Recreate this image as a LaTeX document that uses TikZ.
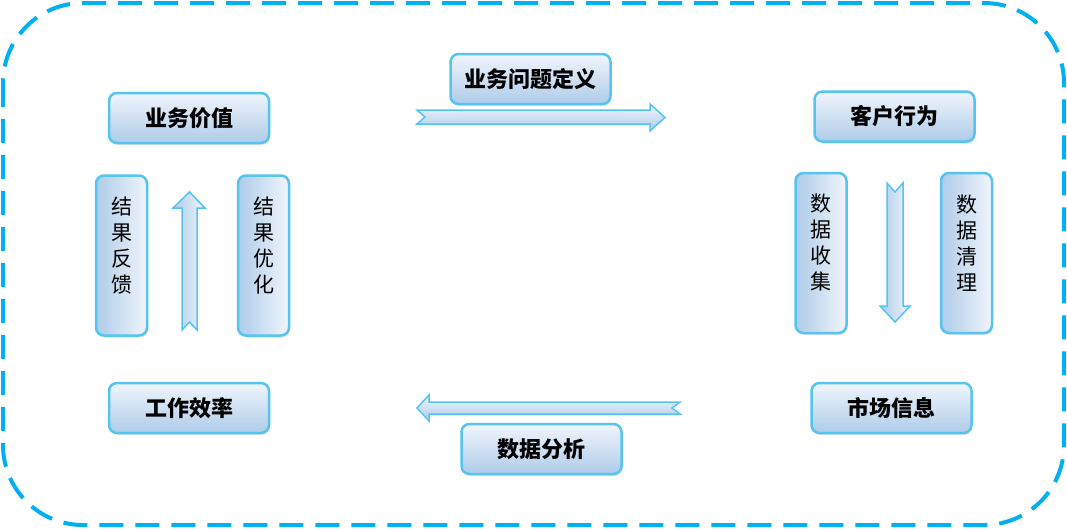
\documentclass[tikz,border=0pt]{standalone}
\usepackage{fontspec}
\usepackage{tikz}
\usetikzlibrary{shadows}
\newfontfamily\cjk{Noto Sans CJK SC}
\definecolor{marco}{RGB}{0,176,240}
\definecolor{borde}{RGB}{86,196,240}
\definecolor{claro}{RGB}{240,245,252}
\definecolor{oscuro}{RGB}{174,204,233}
\def\anchoH{160}
\def\altoH{50}
\def\anchoV{51}
\def\altoV{160}

\begin{document}
\begin{tikzpicture}[x=1pt, y=-1pt,
    caja/.style={draw=borde, line width=2.5pt, rounded corners=8pt, inner sep=0pt,
      drop shadow={opacity=0.18, shadow xshift=1pt, shadow yshift=-2pt}},
    hcaja/.style={caja, top color=claro, bottom color=oscuro,
      minimum width=\anchoH pt, minimum height=\altoH pt,
      font=\cjk\bfseries\fontsize{22}{26}\selectfont},
    vcaja/.style={caja, left color=oscuro, right color=claro,
      minimum width=\anchoV pt, minimum height=\altoV pt},
    vtexto/.style={inner sep=0pt, align=center, font=\cjk\fontsize{21}{26}\selectfont},
    flecha/.style={draw=borde, line width=1.5pt, line join=miter}]
    % Fondo y marco
    \useasboundingbox (0,0) rectangle (1067,528);
    \fill[white] (0,0) rectangle (1067,528);
    \draw[marco, line width=4pt, dash pattern=on 24pt off 12pt, rounded corners=80pt]
      (3,3) rectangle (1064,525);

    % Cajas horizontales
    \node[hcaja] (valor)    at (189,118)   {业务价值};
    \node[hcaja] (problema) at (530.5,79)  {业务问题定义};
    \node[hcaja] (cliente)  at (894.5,116.5) {客户行为};
    \node[hcaja] (mercado)  at (891.5,408) {市场信息};
    \node[hcaja] (analisis) at (541.5,449) {数据分析};
    \node[hcaja] (trabajo)  at (189,408)   {工作效率};

    % Cajas verticales
    \node[vcaja] (feedback)  at (121.5,255.5) {};
    \node[vcaja] (optimo)    at (263.5,255.5) {};
    \node[vcaja] (recogida)  at (821,253)     {};
    \node[vcaja] (limpieza)  at (966.5,253)   {};
    \node[vtexto] (tfeedback) at ([yshift=10pt]feedback.center) {结\\果\\反\\馈};
    \node[vtexto] (toptimo)   at ([yshift=10pt]optimo.center)   {结\\果\\优\\化};
    \node[vtexto] (trecogida) at ([yshift=11pt]recogida.center) {数\\据\\收\\集};
    \node[vtexto] (tlimpieza) at ([yshift=10pt]limpieza.center) {数\\据\\清\\理};

    % Flechas de bloque
    \path[flecha, top color=claro, bottom color=oscuro]
      (417,110) -- (650,110) -- (650,104) -- (665,117.5) -- (650,131)
      -- (650,124) -- (417,124) -- (425,117) -- cycle;
    \path[flecha, left color=oscuro, right color=claro]
      (887,183) -- (895,192) -- (903,183) -- (903,306) -- (910,306)
      -- (895,322) -- (880,306) -- (887,306) -- cycle;
    \path[flecha, top color=claro, bottom color=oscuro]
      (680,402) -- (429,402) -- (429,395) -- (417,408) -- (429,421)
      -- (429,414) -- (680,414) -- (672,408) -- cycle;
    \path[flecha, left color=oscuro, right color=claro]
      (182,330) -- (189.5,322) -- (197,330) -- (197,208) -- (205,208)
      -- (189.5,192) -- (173,208) -- (182,208) -- cycle;
\end{tikzpicture}
\end{document}
